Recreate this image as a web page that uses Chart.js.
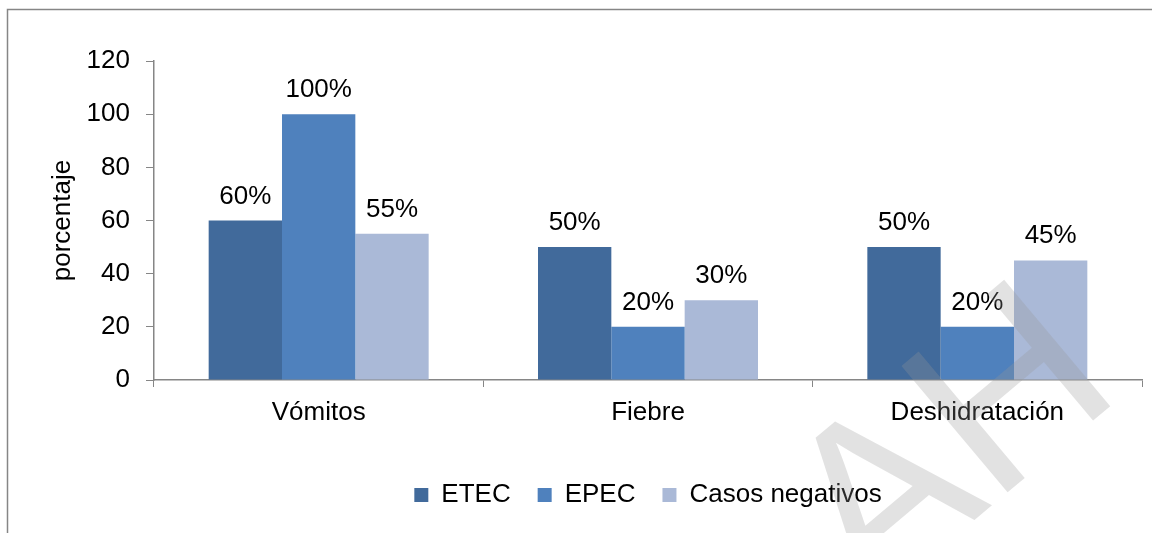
<!DOCTYPE html>
<html>
<head>
<meta charset="utf-8">
<script src="https://cdn.jsdelivr.net/npm/chart.js@4.4.0/dist/chart.umd.min.js"></script>
<style>
  html, body { margin: 0; padding: 0; background: #fff; }
  #wrap { position: relative; width: 1152px; height: 533px; }
  canvas { display: block; }
</style>
</head>
<body>
<div id="wrap"><canvas id="grafico" width="1152" height="533"></canvas></div>
<script>
// datos del gráfico
const categorias = ["Vómitos", "Fiebre", "Deshidratación"];
const etec = [60, 50, 50];
const epec = [100, 20, 20];
const negativos = [55, 30, 45];
const etiquetasSerie = ["ETEC", "EPEC", "Casos negativos"];
const coloresSerie = ["#416A9B", "#4F81BD", "#AAB9D7"];

const FUENTE = "'Liberation Sans', Arial, sans-serif";

// etiquetas de porcentaje encima de cada barra
const etiquetasBarras = {
  id: "etiquetasBarras",
  afterDatasetsDraw(chart) {
    const ctx = chart.ctx;
    ctx.save();
    ctx.font = "26px " + FUENTE;
    ctx.fillStyle = "#000";
    ctx.textAlign = "center";
    ctx.textBaseline = "alphabetic";
    chart.data.datasets.forEach((ds, i) => {
      chart.getDatasetMeta(i).data.forEach((bar, j) => {
        ctx.fillText(ds.data[j] + "%", bar.x, bar.y - 17);
      });
    });
    ctx.restore();
  }
};

// marco y marca de agua
const marco = {
  id: "marco",
  beforeDraw(chart) {
    const ctx = chart.ctx;
    ctx.save();
    ctx.strokeStyle = "#868686";
    ctx.lineWidth = 1.5;
    ctx.beginPath();
    ctx.moveTo(7.5, 533);
    ctx.lineTo(7.5, 9.5);
    ctx.lineTo(1152, 9.5);
    ctx.stroke();
    ctx.restore();
  },
  afterDraw(chart) {
    const ctx = chart.ctx;
    ctx.save();
    ctx.translate(955, 450);
    ctx.rotate(-40 * Math.PI / 180);
    ctx.font = "240px " + FUENTE;
    ctx.fillStyle = "rgba(150,150,150,0.28)";
    ctx.textAlign = "center";
    ctx.textBaseline = "middle";
    ctx.fillText("AH", 0, 0);
    ctx.restore();
  }
};

const ctx = document.getElementById("grafico").getContext("2d");
new Chart(ctx, {
  type: "bar",
  data: {
    labels: categorias,
    datasets: [etec, epec, negativos].map((d, i) => ({
      label: etiquetasSerie[i],
      data: d,
      backgroundColor: coloresSerie[i],
      borderWidth: 0,
      categoryPercentage: 0.668,
      barPercentage: 1
    }))
  },
  options: {
    responsive: false,
    animation: false,
    layout: { padding: { top: 61, left: 43, right: 10, bottom: 15 } },
    scales: {
      x: {
        grid: { display: true, drawOnChartArea: false, offset: true, tickLength: 7, color: "#868686" },
        border: { color: "#868686", width: 1.5 },
        ticks: { color: "#000", font: { family: FUENTE, size: 26 }, padding: 10 },
        afterFit(scale) { scale.height = 75; }
      },
      y: {
        min: 0,
        max: 120,
        ticks: { stepSize: 20, color: "#000", font: { family: FUENTE, size: 26 }, padding: 16 },
        grid: { display: true, drawOnChartArea: false, tickLength: 8, color: "#868686" },
        border: { color: "#868686", width: 1.5 },
        title: { display: true, text: "porcentaje", color: "#000", font: { family: FUENTE, size: 26 } },
        afterFit(scale) { scale.width = 111; }
      }
    },
    plugins: {
      legend: {
        position: "bottom",
        fullSize: false,
        labels: { boxWidth: 14, boxHeight: 14, padding: 27, color: "#000", font: { family: FUENTE, size: 26 } }
      },
      tooltip: { enabled: false }
    }
  },
  plugins: [etiquetasBarras, marco]
});
</script>
</body>
</html>
